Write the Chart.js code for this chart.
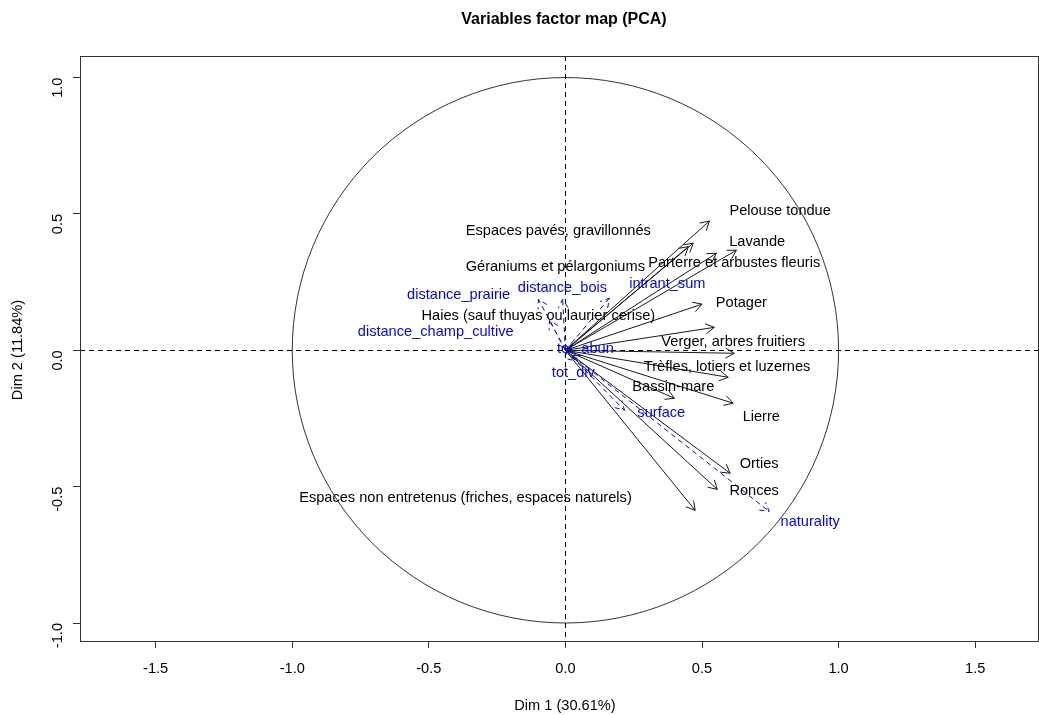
<!DOCTYPE html>
<html>
<head>
<meta charset="utf-8">
<title>Variables factor map (PCA)</title>
<script src="https://cdn.jsdelivr.net/npm/chart.js@4.4.1/dist/chart.umd.min.js"></script>
<style>
  body { margin: 0; background: #fff; }
  canvas { display: block; }
</style>
</head>
<body>
<canvas id="pca" width="1039" height="715"></canvas>
<script>
// variables actives (fleches noires)
const activeNames = [
    'Pelouse tondue', 'Espaces pavés, gravillonnés', 'Lavande', 'Géraniums et pélargoniums',
    'Parterre et arbustes fleuris', 'Potager', 'Haies (sauf thuyas ou laurier cerise)',
    'Verger, arbres fruitiers', 'Trèfles, lotiers et luzernes', 'Bassin-mare', 'Lierre',
    'Orties', 'Ronces', 'Espaces non entretenus (friches, espaces naturels)'
];
const activeDim1 = [0.527, 0.468, 0.626, 0.450, 0.553, 0.500, 0.545, 0.618, 0.596, 0.399, 0.614, 0.603, 0.556, 0.475];
const activeDim2 = [0.474, 0.393, 0.367, 0.380, 0.356, 0.169, 0.084, -0.011, -0.099, -0.176, -0.194, -0.451, -0.510, -0.587];
const activeLabelX = [0.786, -0.026, 0.702, -0.037, 0.618, 0.644, -0.099, 0.614, 0.592, 0.395, 0.717, 0.709, 0.691, -0.366];
const activeLabelY = [0.510, 0.437, 0.396, 0.305, 0.319, 0.172, 0.125, 0.029, -0.062, -0.136, -0.246, -0.418, -0.517, -0.543];

// variables supplementaires (fleches bleues en pointilles)
const supNames = ['distance_prairie', 'distance_bois', 'intrant_sum', 'distance_champ_cultive',
    'tot_abun', 'tot_div', 'surface', 'naturality'];
const supDim1 = [-0.099, -0.010, 0.161, -0.058, 0.020, 0.044, 0.216, 0.746];
const supDim2 = [0.187, 0.187, 0.191, 0.110, 0.008, -0.040, -0.220, -0.591];
const supLabelX = [-0.391, -0.011, 0.373, -0.475, 0.073, 0.029, 0.351, 0.896];
const supLabelY = [0.202, 0.228, 0.242, 0.066, 0.004, -0.084, -0.231, -0.631];

const xTicks = [-1.5, -1.0, -0.5, 0.0, 0.5, 1.0, 1.5];
const yTicks = [-1.0, -0.5, 0.0, 0.5, 1.0];

const FONT = '"Liberation Sans", Arial, sans-serif';
const FSIZE = 14.6;

// un jeu de donnees par fleche : origine -> extremite
const datasets = [];
activeNames.forEach((n, i) => {
    datasets.push({
        label: n,
        data: [{ x: 0, y: 0 }, { x: activeDim1[i], y: activeDim2[i] }],
        showLine: true,
        borderColor: '#1a1a1a',
        borderWidth: 1,
        pointRadius: 0,
        txt: n, lx: activeLabelX[i], ly: activeLabelY[i], txtColor: '#000'
    });
});
supNames.forEach((n, i) => {
    datasets.push({
        label: n,
        data: [{ x: 0, y: 0 }, { x: supDim1[i], y: supDim2[i] }],
        showLine: true,
        borderColor: '#0000ff',
        borderDash: [5, 4],
        borderWidth: 1,
        pointRadius: 0,
        txt: n, lx: supLabelX[i], ly: supLabelY[i], txtColor: '#0000ff'
    });
});

// cercle de correlation, axes en pointilles, cadre
const backgroundPlugin = {
    id: 'background',
    beforeDatasetsDraw(chart) {
        const { ctx, chartArea: a, scales: { x, y } } = chart;
        const cx = x.getPixelForValue(0), cy = y.getPixelForValue(0);
        ctx.save();
        ctx.strokeStyle = '#333';
        ctx.lineWidth = 1;
        ctx.beginPath();
        ctx.ellipse(cx, cy, x.getPixelForValue(1) - cx, cy - y.getPixelForValue(1), 0, 0, Math.PI * 2);
        ctx.stroke();
        ctx.setLineDash([5, 4]);
        ctx.strokeStyle = '#000';
        ctx.beginPath();
        ctx.moveTo(a.left, Math.round(cy) + 0.5); ctx.lineTo(a.right, Math.round(cy) + 0.5);
        ctx.moveTo(Math.round(cx) + 0.5, a.top); ctx.lineTo(Math.round(cx) + 0.5, a.bottom);
        ctx.stroke();
        ctx.setLineDash([]);
        ctx.strokeStyle = '#333';
        ctx.strokeRect(a.left + 0.5, a.top + 0.5, a.right - a.left, a.bottom - a.top);
        ctx.restore();
    }
};

// pointes de fleches et etiquettes
const arrowPlugin = {
    id: 'arrows',
    afterDatasetsDraw(chart) {
        const { ctx, scales: { x, y } } = chart;
        ctx.save();
        chart.data.datasets.forEach((ds, i) => {
            const pts = chart.getDatasetMeta(i).data;
            const p0 = pts[0], p1 = pts[1];
            const ang = Math.atan2(p1.y - p0.y, p1.x - p0.x);
            const len = 10, spread = Math.PI / 6;
            ctx.strokeStyle = ds.borderColor;
            ctx.lineWidth = 1;
            ctx.setLineDash(ds.borderDash || []);
            ctx.beginPath();
            ctx.moveTo(p1.x - len * Math.cos(ang - spread), p1.y - len * Math.sin(ang - spread));
            ctx.lineTo(p1.x, p1.y);
            ctx.lineTo(p1.x - len * Math.cos(ang + spread), p1.y - len * Math.sin(ang + spread));
            ctx.stroke();
        });
        ctx.setLineDash([]);
        ctx.font = FSIZE + 'px ' + FONT;
        ctx.textAlign = 'center';
        ctx.textBaseline = 'middle';
        chart.data.datasets.forEach(ds => {
            ctx.fillStyle = ds.txtColor;
            ctx.fillText(ds.txt, x.getPixelForValue(ds.lx), y.getPixelForValue(ds.ly));
        });
        // titres
        ctx.fillStyle = '#000';
        ctx.font = 'bold 16px ' + FONT;
        ctx.fillText('Variables factor map (PCA)', 564, 20);
        ctx.font = FSIZE + 'px ' + FONT;
        ctx.fillText('Dim 1 (30.61%)', 565, 706);
        ctx.translate(18, 350);
        ctx.rotate(-Math.PI / 2);
        ctx.fillText('Dim 2 (11.84%)', 0, 0);
        ctx.restore();
    }
};

new Chart(document.getElementById('pca'), {
    type: 'scatter',
    data: { datasets: datasets },
    options: {
        responsive: false,
        animation: false,
        layout: { padding: { top: 56, right: 1, left: 0, bottom: 0 } },
        plugins: {
            legend: { display: false },
            tooltip: { enabled: false },
            title: { display: false }
        },
        scales: {
            x: {
                type: 'linear',
                min: -1.777,
                max: 1.73,
                afterBuildTicks: axis => { axis.ticks = xTicks.map(v => ({ value: v })); },
                afterFit: axis => { axis.height = 74; },
                grid: { drawOnChartArea: false, drawTicks: true, tickLength: 7, color: '#333' },
                border: { display: true, color: '#333' },
                ticks: {
                    color: '#000',
                    font: { size: FSIZE, family: FONT },
                    padding: 12,
                    maxRotation: 0,
                    callback: v => v.toFixed(1)
                }
            },
            y: {
                type: 'linear',
                min: -1.066,
                max: 1.079,
                afterBuildTicks: axis => { axis.ticks = yTicks.map(v => ({ value: v })); },
                afterFit: axis => { axis.width = 80; },
                grid: { drawOnChartArea: false, drawTicks: true, tickLength: 7, color: '#333' },
                border: { display: true, color: '#333' },
                ticks: {
                    color: '#000',
                    font: { size: FSIZE, family: FONT },
                    padding: 15,
                    minRotation: 90,
                    maxRotation: 90,
                    callback: v => v.toFixed(1)
                }
            }
        }
    },
    plugins: [backgroundPlugin, arrowPlugin]
});
</script>
</body>
</html>
